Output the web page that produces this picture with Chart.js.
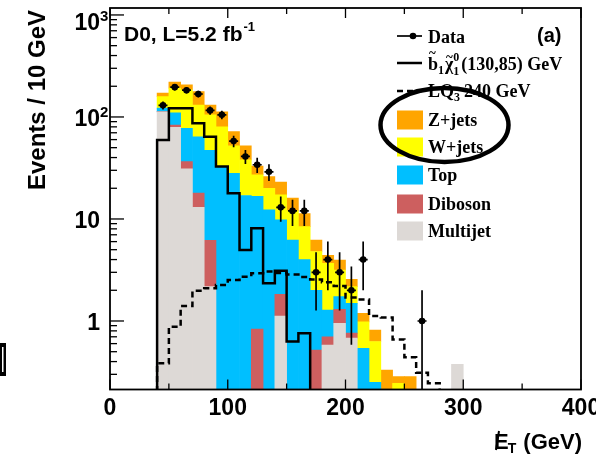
<!DOCTYPE html>
<html><head><meta charset="utf-8">
<script src="https://cdn.jsdelivr.net/npm/chart.js@4.4.0/dist/chart.umd.min.js"></script>
<style>html,body{margin:0;padding:0;background:#fff;}#wrap{width:596px;height:454px;}</style>
</head><body><div id="wrap"><canvas id="c" width="596" height="454"></canvas></div>
<script>
// bin low edges (GeV), 10 GeV bins
const binLow   = [40,50,60,70,80,90,100,110,120,130,140,150,160,170,180,190,200,210,220,230,240,250,260,270,280,290];
const multijet = [112,79,31,13,2.17,null,null,null,null,null,1.12,null,null,null,0.58,0.95,0.68,null,null,null,null,null,null,null,null,0.376];
const diboson  = [1,4.5,5.5,4.9,4.0,null,null,null,0.835,null,0.71,null,null,0.52,0.12,0.35,0.08,null,null,null,null,null,null,null,null,null];
const topq     = [9,26.5,41,46,40.8,32,28,17,15.8,12.3,8.0,6.2,4.0,1.48,0.58,0.43,0.73,0.54,0.25,null,null,null,null,null,null,null];
const wjets    = [36,82,106.5,67,58,48,24,21,10.4,7.7,7.4,5.8,4.4,2.8,2.4,1.43,0.68,0.44,0.38,null,0.245,null,null,null,null,null];
const zjets    = [13,28,22,46,26,32,20,14,6,6,5.8,4,2.9,1.4,0.72,0.8,0.39,0.21,0.186,0.33,0.04,0.285,null,null,null,null];
const dataCounts = [130,196,183,168,116,105,58,41,34,29,13,12,12,3,4,3,2,4,0,0,0,0,1,0,0,0];
const sbottom  = [59.5,122,122,86.7,64,32.6,17.9,4.97,8.1,2.34,3.11,0.63,0.76,0,0,0,0,0,0,0,0,0,0,0,0,0];
const lq3      = [0.385,0.88,1.40,1.98,2.09,2.25,2.52,2.72,2.94,3.05,2.95,2.85,2.7,2.55,2.4,2.2,1.7,1.62,1.12,1.08,0.66,0.44,0.31,0.245,0.2,0];
const xTicks = [0,100,200,300,400];
const yTicks = [1,10,100,1000];
const yTickText = ['1','10','10','10'];
const yTickSup  = ['','','2','3'];

const BIN = 10, FLOOR = 0.01;
const barData = arr => binLow.map((b,i)=>({x:b+BIN/2, y:arr[i]}));
const stepData = arr => {
  const pts = [{x:0, y:FLOOR}];
  binLow.forEach((b,i)=>pts.push({x:b, y:arr[i] > 0 ? arr[i] : FLOOR}));
  pts.push({x:binLow[binLow.length-1]+BIN, y:FLOOR});
  pts.push({x:400, y:FLOOR});
  return pts;
};
const pointsData = binLow.map((b,i)=>({x:b+BIN/2, y:dataCounts[i]})).filter(p=>p.y>0);

const COL = {z:'#FFA500', w:'#FFFF00', t:'#00BFFF', d:'#CD5F5F', m:'#DDD9D6'};
const SANS = '"Liberation Sans", Arial, Helvetica, sans-serif';
const SERIF = '"Liberation Serif", "Times New Roman", serif';

function barDs(label, arr, color){
  return {type:'bar', label, data:barData(arr), backgroundColor:color, borderWidth:0,
    barPercentage:1, categoryPercentage:1, stack:'bg', order:3};
}

const rootPlugin = {
  id:'rootStyle',
  afterDatasetsDraw(chart){
    const {ctx, chartArea:a, scales:{x,y}} = chart;
    ctx.save();
    ctx.beginPath(); ctx.rect(a.left, a.top, a.right-a.left, a.bottom-a.top); ctx.clip();
    ctx.strokeStyle='#000'; ctx.lineWidth=1.7;
    binLow.forEach((b,i)=>{
      const n = dataCounts[i]; if(!n) return;
      const px = x.getPixelForValue(b+BIN/2), py = y.getPixelForValue(n);
      const e = Math.sqrt(n);
      const hi = y.getPixelForValue(n+e);
      const lo = n-e>0 ? y.getPixelForValue(n-e) : a.bottom+2;
      ctx.beginPath();
      ctx.moveTo(px,hi); ctx.lineTo(px,lo);
      ctx.moveTo(px-4.5,py); ctx.lineTo(px+4.5,py);
      ctx.stroke();
    });
    ctx.restore();
  },
  afterDraw(chart){
    const {ctx, chartArea:a, scales:{x,y}} = chart;
    ctx.save();
    // frame
    ctx.strokeStyle='#000'; ctx.lineWidth=1.8;
    ctx.strokeRect(a.left, a.top, a.right-a.left, a.bottom-a.top);
    // y ticks (log, inside)
    ctx.lineWidth=1.3;
    for(let d=-1; d<=3; d++){
      for(let m=1; m<=9; m++){
        const v = m*Math.pow(10,d);
        if(v < y.min || v > y.max) continue;
        const py = y.getPixelForValue(v);
        const len = m===1 ? 14 : 7;
        ctx.beginPath(); ctx.moveTo(a.left, py); ctx.lineTo(a.left+len, py); ctx.stroke();
      }
    }
    // x ticks bottom & top
    for(let v=0; v<=400; v+=50){
      const px = x.getPixelForValue(v);
      const len = v%100===0 ? 10 : 6;
      ctx.beginPath();
      ctx.moveTo(px, a.bottom); ctx.lineTo(px, a.bottom-len);
      ctx.moveTo(px, a.top); ctx.lineTo(px, a.top+len);
      ctx.stroke();
    }
    // tick labels
    ctx.fillStyle='#000';
    ctx.font = 'bold 23px '+SANS;
    ctx.textAlign='center'; ctx.textBaseline='alphabetic';
    xTicks.forEach(v=>ctx.fillText(String(v), x.getPixelForValue(v), 415));
    yTicks.forEach((v,i)=>{
      const py = y.getPixelForValue(v);
      const base = Math.max(py+9, 30);
      ctx.font = 'bold 23px '+SANS; ctx.textAlign='right';
      ctx.fillText(yTickText[i], 100, base);
      if(yTickSup[i]){
        ctx.font='bold 15px '+SANS; ctx.textAlign='left';
        ctx.fillText(yTickSup[i], 100, base-9);
      }
    });
    // axis titles
    ctx.font='bold 24px '+SANS; ctx.textAlign='center';
    ctx.save(); ctx.translate(45,100); ctx.rotate(-Math.PI/2);
    ctx.fillText('Events / 10 GeV', 0, 0); ctx.restore();
    // x title: missing ET
    ctx.textAlign='left';
    const fE='bold 22px '+SANS, fT='bold 14px '+SANS;
    ctx.font=fE; const wE=ctx.measureText('E').width; const wG=ctx.measureText(' (GeV)').width;
    ctx.font=fT; const wT=ctx.measureText('T').width;
    let xs = 582 - (wE+wT+wG), yb=449;
    ctx.font=fE; ctx.fillText('E', xs, yb);
    ctx.lineWidth=2; ctx.beginPath(); ctx.moveTo(xs+2, yb+1); ctx.lineTo(xs+5, yb-18); ctx.stroke();
    ctx.font=fT; ctx.fillText('T', xs+wE-1, yb+4);
    ctx.font=fE; ctx.fillText(' (GeV)', xs+wE+wT, yb);
    // D0 label
    ctx.font='bold 21px '+SANS;
    ctx.fillText('D0, L=5.2 fb', 124, 41);
    const wl = ctx.measureText('D0, L=5.2 fb').width;
    ctx.font='bold 13px '+SANS; ctx.fillText('-1', 124+wl+1, 31);
    // (a)
    ctx.font='bold 20px '+SANS; ctx.fillText('(a)', 537, 42);
    // legend
    const LX=397, LW=25, TX=428;
    ctx.strokeStyle='#000'; ctx.lineWidth=1.7;
    ctx.beginPath(); ctx.moveTo(LX,36); ctx.lineTo(LX+LW,36); ctx.stroke();
    ctx.beginPath(); ctx.arc(413,36,3.3,0,Math.PI*2); ctx.fill();
    ctx.font='bold 18px '+SERIF; ctx.fillText('Data', TX, 43);
    ctx.lineWidth=2.5;
    ctx.beginPath(); ctx.moveTo(LX,63); ctx.lineTo(LX+LW,63); ctx.stroke();
    let cx = TX, yb2 = 70;
    const fM='bold 18px '+SERIF, fS='bold 12px '+SERIF;
    ctx.font=fM; ctx.fillText('b', cx, yb2); let wb=ctx.measureText('b').width;
    ctx.font='bold 13px '+SERIF; ctx.fillText('~', cx+1, yb2-13);
    cx += wb;
    ctx.font=fS; ctx.fillText('1', cx, yb2+4); cx += ctx.measureText('1').width+1;
    ctx.font=fM; ctx.fillText('\u03C7', cx, yb2); let wc=ctx.measureText('\u03C7').width;
    ctx.font='bold 13px '+SERIF; ctx.fillText('~', cx+1, yb2-9);
    cx += wc;
    ctx.font=fS; ctx.fillText('1', cx, yb2+5); ctx.fillText('0', cx, yb2-9); cx += ctx.measureText('0').width+2;
    ctx.font=fM; ctx.fillText('(130,85) GeV', cx, yb2);
    ctx.setLineDash([6,4]);
    ctx.beginPath(); ctx.moveTo(LX,91); ctx.lineTo(LX+LW,91); ctx.stroke();
    ctx.setLineDash([]);
    cx = TX; ctx.font=fM; ctx.fillText('LQ', cx, 97); cx += ctx.measureText('LQ').width;
    ctx.font=fS; ctx.fillText('3', cx, 101); cx += ctx.measureText('3').width+4;
    ctx.font=fM; ctx.fillText('240 GeV', cx, 97);
    const items=[['Z+jets',COL.z,120],['W+jets',COL.w,147],['Top',COL.t,175],['Diboson',COL.d,204],['Multijet',COL.m,231]];
    items.forEach(([t,c,cy])=>{
      ctx.fillStyle=c; ctx.fillRect(LX, cy-9.5, 26, 19);
      ctx.fillStyle='#000'; ctx.font=fM; ctx.fillText(t, TX, cy+6);
    });
    ctx.lineWidth=4.5; ctx.strokeStyle='#000';
    ctx.beginPath(); ctx.ellipse(444.5,125,64,37,0,0,Math.PI*2); ctx.stroke();
    ctx.fillStyle='#000'; ctx.fillRect(0,343,6,33);
    ctx.fillStyle='#fff'; ctx.fillRect(2,347,1.5,25);
    ctx.restore();
  }
};

new Chart(document.getElementById('c'), {
  type:'bar',
  data:{datasets:[
    {type:'scatter', label:'Data', data:pointsData, pointRadius:3.3, pointBackgroundColor:'#000', pointBorderWidth:0, stack:'data', order:0},
    {type:'line', label:'sbottom', data:stepData(sbottom), stepped:true, borderColor:'#000', borderWidth:2.5, pointRadius:0, fill:false, stack:'s1', order:1},
    {type:'line', label:'LQ3', data:stepData(lq3), stepped:true, borderColor:'#000', borderWidth:2.5, borderDash:[6,4], pointRadius:0, fill:false, stack:'s2', order:1},
    barDs('Multijet', multijet, COL.m),
    barDs('Diboson', diboson, COL.d),
    barDs('Top', topq, COL.t),
    barDs('W+jets', wjets, COL.w),
    barDs('Z+jets', zjets, COL.z)
  ]},
  options:{
    responsive:false, animation:false, devicePixelRatio:1,
    layout:{padding:{left:110, right:15, top:8, bottom:64.5}},
    plugins:{legend:{display:false}, tooltip:{enabled:false}},
    scales:{
      x:{type:'linear', min:0, max:400, offset:false, stacked:true, display:false, ticks:{stepSize:50}, grid:{offset:false}},
      y:{type:'logarithmic', min:0.213, max:1170, stacked:true, display:false}
    }
  },
  plugins:[rootPlugin]
});
</script></body></html>
